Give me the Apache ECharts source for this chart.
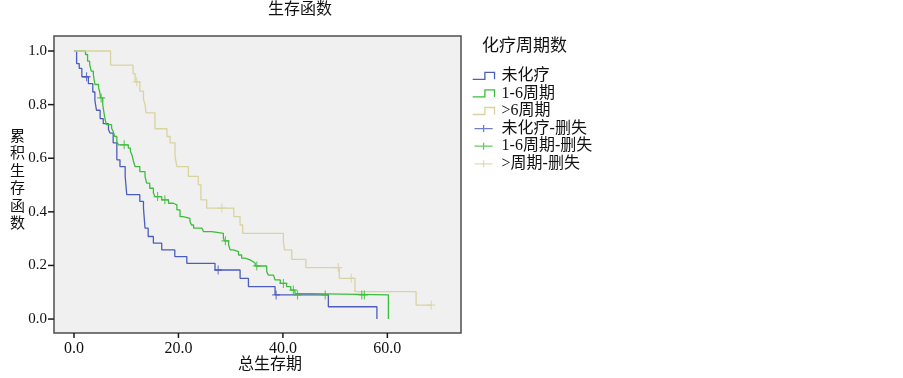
<!DOCTYPE html>
<html>
<head>
<meta charset="utf-8">
<script src="https://cdn.jsdelivr.net/npm/echarts@6/dist/echarts.min.js"></script>
<style>
html, body { margin: 0; padding: 0; background: #fff; }
#main { width: 903px; height: 378px; }
</style>
</head>
<body>
<div id="main"></div>
<script>
// 生存曲线数据（时间, 累积生存）
var groupNames = ['未化疗', '1-6周期', '>6周期'];
var censorNames = ['未化疗-删失', '1-6周期-删失', '>周期-删失'];
var colors = ['#4b5dbd', '#3dbd3d', '#d8d39f'];

var blueTimes = [0, 0.5, 1.0, 1.5, 2.75, 3.6, 4.0, 4.3, 5.0, 5.6, 6.6, 6.9, 7.5, 8.2, 8.8, 9.8, 10.1, 12.6, 13.3, 13.6, 14.2, 15.2, 16.8, 19.3, 21.6, 27.0, 31.8, 33.4, 38.5, 48.7, 58.0];
var blueSurv = [1, 0.953, 0.935, 0.904, 0.878, 0.847, 0.816, 0.779, 0.748, 0.729, 0.707, 0.694, 0.657, 0.594, 0.569, 0.532, 0.464, 0.439, 0.414, 0.339, 0.308, 0.283, 0.258, 0.233, 0.208, 0.183, 0.152, 0.121, 0.090, 0.046, 0];
var blueCensor = [2.4, 27.6, 38.7];

var greenTimes = [0, 2.2, 2.6, 3.0, 3.3, 3.7, 4.0, 4.7, 4.9, 5.1, 5.5, 5.7, 5.9, 6.2, 7.2, 7.5, 7.8, 8.2, 8.5, 10.4, 10.8, 11.1, 11.4, 11.7, 12.6, 13.6, 13.9, 14.5, 15.2, 15.5, 16.8, 18.1, 19.0, 19.7, 20.3, 20.9, 22.2, 22.5, 22.9, 24.5, 24.8, 26.4, 28.6, 28.8, 29.6, 29.9, 30.5, 31.5, 32.1, 32.8, 33.7, 34.3, 34.7, 36.9, 37.2, 38.2, 38.5, 39.5, 40.7, 41.5, 42.3, 42.6, 60.2];
var greenSurv = [1, 0.987, 0.962, 0.950, 0.925, 0.912, 0.875, 0.862, 0.850, 0.825, 0.800, 0.775, 0.750, 0.725, 0.712, 0.700, 0.681, 0.662, 0.650, 0.638, 0.625, 0.612, 0.588, 0.569, 0.550, 0.532, 0.507, 0.488, 0.470, 0.457, 0.445, 0.432, 0.426, 0.407, 0.382, 0.376, 0.364, 0.351, 0.339, 0.333, 0.326, 0.320, 0.302, 0.292, 0.277, 0.258, 0.252, 0.239, 0.227, 0.221, 0.214, 0.208, 0.198, 0.177, 0.164, 0.158, 0.146, 0.133, 0.121, 0.108, 0.096, 0.090, 0];
var greenCensor = [5.2, 9.6, 16.0, 17.4, 29.0, 35.0, 40.1, 42.0, 42.8, 48.1, 55.1, 55.6];

var tanTimes = [0, 7.0, 11.3, 11.7, 12.6, 13.3, 13.6, 13.8, 15.5, 17.8, 18.4, 19.35, 19.7, 21.9, 23.8, 24.3, 25.4, 30.6, 31.8, 32.3, 40.1, 40.3, 41.7, 44.4, 50.8, 53.8, 65.5, 68.4];
var tanSurv = [1, 0.947, 0.916, 0.885, 0.85, 0.82, 0.80, 0.769, 0.710, 0.681, 0.657, 0.607, 0.569, 0.532, 0.501, 0.445, 0.414, 0.382, 0.351, 0.320, 0.289, 0.258, 0.223, 0.192, 0.152, 0.102, 0.052, 0.052];
var tanCensor = [12.0, 28.3, 50.6, 53.1, 68.4];

var xTicks = [0, 20, 40, 60];
var yTicks = [0, 0.2, 0.4, 0.6, 0.8, 1.0];

var allTimes = [blueTimes, greenTimes, tanTimes];
var allSurv = [blueSurv, greenSurv, tanSurv];
var allCensor = [blueCensor, greenCensor, tanCensor];

function pairs(ts, ss) {
	return ts.map(function (t, i) { return [t, ss[i]]; });
}
// 删失点取该时刻的生存值
function censorPoints(cs, ts, ss) {
	return cs.map(function (c) {
		var v = ss[0];
		for (var i = 0; i < ts.length; i++) {
			if (ts[i] <= c) v = ss[i];
		}
		return [c, v];
	});
}

var serif = "'Liberation Serif', 'Noto Sans CJK SC', serif";
var stepIcon = 'path://M0,8 L14,8 L14,0 L25,0 L25,8';
var crossIcon = 'path://M0,5 L26,5 M13,0 L13,10';
var frameColor = '#4d4d4d';
var xMin = -3.83, xMax = 74.1, yMin = -0.052, yMax = 1.056;

var series = [];
for (var g = 0; g < 3; g++) {
	series.push({
		name: groupNames[g],
		type: 'line',
		step: 'end',
		showSymbol: false,
		symbol: 'none',
		lineStyle: { color: colors[g], width: 1.3 },
		itemStyle: { color: colors[g] },
		data: pairs(allTimes[g], allSurv[g])
	});
}
for (var g = 0; g < 3; g++) {
	series.push({
		name: censorNames[g],
		type: 'scatter',
		symbol: 'path://M0,5 L10,5 M5,0 L5,10',
		symbolSize: [8, 9],
		itemStyle: { color: 'rgba(0,0,0,0)', borderColor: colors[g], borderWidth: 1.2 },
		z: 5,
		data: censorPoints(allCensor[g], allTimes[g], allSurv[g])
	});
}
// 刻度线（向外）
series.push({
	type: 'custom',
	clip: false,
	silent: true,
	z: 6,
	data: xTicks.map(function (v) { return [v, yMin]; }),
	renderItem: function (params, api) {
		var p = api.coord([api.value(0), yMin]);
		return { type: 'line', shape: { x1: p[0], y1: p[1], x2: p[0], y2: p[1] + 5 },
			style: { stroke: '#1a1a1a', lineWidth: 1.5 } };
	}
});
series.push({
	type: 'custom',
	clip: false,
	silent: true,
	z: 6,
	data: yTicks.map(function (v) { return [xMin, v]; }),
	renderItem: function (params, api) {
		var p = api.coord([xMin, api.value(1)]);
		return { type: 'line', shape: { x1: p[0] - 6, y1: p[1], x2: p[0], y2: p[1] },
			style: { stroke: '#1a1a1a', lineWidth: 1.5 } };
	}
});

var legendData = [];
for (var g = 0; g < 3; g++) {
	legendData.push({ name: groupNames[g], icon: stepIcon,
		itemStyle: { color: 'rgba(0,0,0,0)', borderColor: colors[g], borderWidth: 1.3 } });
}
for (var g = 0; g < 3; g++) {
	legendData.push({ name: censorNames[g], icon: crossIcon,
		itemStyle: { color: 'rgba(0,0,0,0)', borderColor: colors[g], borderWidth: 1.3 } });
}

var myChart = echarts.init(document.getElementById('main'));

option = {
	animation: false,
	backgroundColor: '#ffffff',
	grid: {
		left: 54,
		right: 442,
		top: 36,
		bottom: 45,
		show: true,
		backgroundColor: '#f0f0f0',
		borderColor: frameColor,
		borderWidth: 1.5,
		containLabel: false,
		outerBoundsMode: 'none'
	},
	legend: {
		orient: 'vertical',
		left: 467,
		top: 62,
		itemWidth: 26,
		itemHeight: 7,
		itemGap: 0,
		selectedMode: false,
		textStyle: { fontSize: 16, lineHeight: 17.6, color: '#111', fontFamily: serif },
		data: legendData
	},
	graphic: [
		{ type: 'text', x: 300, y: 10, style: { text: '生存函数', fontSize: 16, fontFamily: serif, fill: '#111', align: 'center', verticalAlign: 'middle' } },
		{ type: 'text', x: 482, y: 47, style: { text: '化疗周期数', fontSize: 17, fontFamily: serif, fill: '#111', align: 'left', verticalAlign: 'middle' } },
		{ type: 'text', x: 270, y: 365, style: { text: '总生存期', fontSize: 16, fontFamily: serif, fill: '#111', align: 'center', verticalAlign: 'middle' } },
		{ type: 'text', x: 17.5, y: 180.5, style: { text: '累\n积\n生\n存\n函\n数', fontSize: 15, lineHeight: 17.5, fontFamily: serif, fill: '#111', align: 'center', verticalAlign: 'middle' } }
	],
	xAxis: {
		type: 'value',
		position: 'bottom',
		min: xMin,
		max: xMax,
		axisLine: { show: false, onZero: false },
		splitLine: { show: false },
		axisTick: { show: false },
		axisLabel: {
			customValues: xTicks,
			margin: 8,
			fontSize: 16,
			fontFamily: serif,
			color: '#111',
			formatter: function (v) { return v.toFixed(1); }
		}
	},
	yAxis: {
		type: 'value',
		position: 'left',
		min: yMin,
		max: yMax,
		axisLine: { show: false, onZero: false },
		splitLine: { show: false },
		axisTick: { show: false },
		axisLabel: {
			customValues: yTicks,
			margin: 7,
			fontSize: 15,
			fontFamily: serif,
			color: '#111',
			formatter: function (v) { return v.toFixed(1); }
		}
	},
	series: series
};
myChart.setOption(option);
window.addEventListener('resize', function () {
	myChart.resize();
});
</script>
</body>
</html>
